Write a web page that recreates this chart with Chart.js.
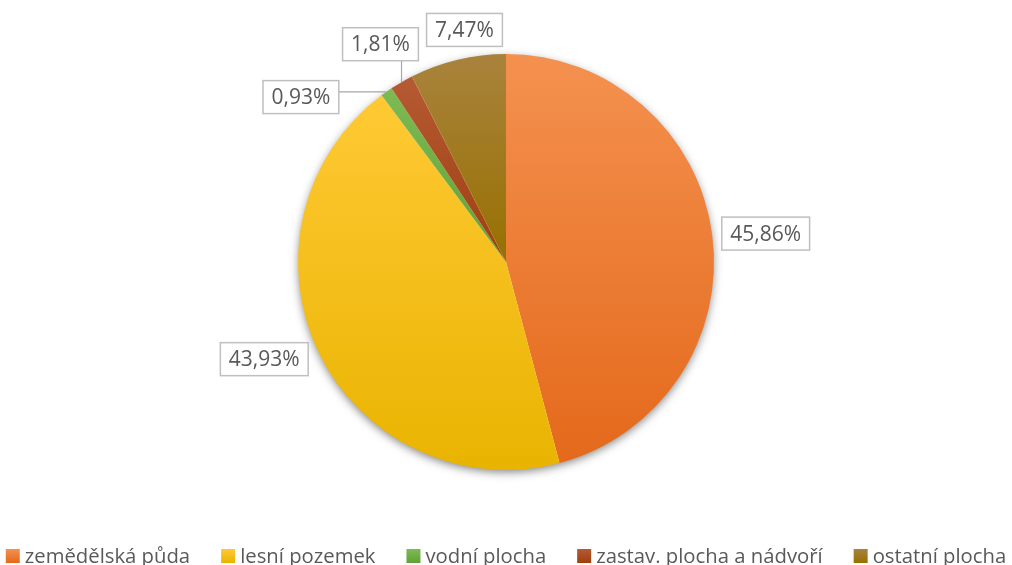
<!DOCTYPE html>
<html>
<head>
<meta charset="utf-8">
<script src="https://cdn.jsdelivr.net/npm/chart.js@4/dist/chart.umd.min.js"></script>
<style>
  html, body { margin: 0; padding: 0; background: #fff; }
  #wrap { width: 1012px; height: 565px; }
</style>
</head>
<body>
<div id="wrap"><canvas id="landChart" width="1012" height="565"></canvas></div>
<script>
// Struktura půdního fondu (podíly v %)
const categories = ['zemědělská půda', 'lesní pozemek', 'vodní plocha', 'zastav. plocha a nádvoří', 'ostatní plocha'];
const shares = [45.86, 43.93, 0.93, 1.81, 7.47];

// barvy výsečí: světlejší nahoře, tmavší dole
const colorsTop = ['#F4914F', '#FFC935', '#7DBA54', '#B65A34', '#A9833D'];
const colorsBottom = ['#E4691B', '#E9B400', '#62A136', '#9E3F0E', '#977000'];

// posun popisků u přeplněných výsečí [dx, dy]
const labelNudge = [[0, 2], [-6, -5], [-58, 27], [3, -15], [18, -4]];

function formatPct(v) {
  return v.toFixed(2).replace('.', ',') + '%';
}

function vGradient(ctx, y0, y1, i) {
  const grad = ctx.createLinearGradient(0, y0, 0, y1);
  grad.addColorStop(0, colorsTop[i]);
  grad.addColorStop(1, colorsBottom[i]);
  return grad;
}

// stín pod koláčem + přechody ve výsečích
const pieStyle = {
  id: 'pieStyle',
  beforeDatasetsDraw(chart) {
    const ctx = chart.ctx;
    const arcs = chart.getDatasetMeta(0).data;
    if (!arcs.length) return;
    const a0 = arcs[0];
    ctx.save();
    ctx.shadowColor = 'rgba(0,0,0,0.5)';
    ctx.shadowBlur = 10;
    ctx.shadowOffsetY = 3;
    ctx.fillStyle = '#fff';
    ctx.beginPath();
    ctx.arc(a0.x, a0.y, a0.outerRadius - 1, 0, Math.PI * 2);
    ctx.fill();
    ctx.restore();

    arcs.forEach((arc, i) => {
      let minY = arc.y, maxY = arc.y;
      for (let k = 0; k <= 40; k++) {
        const t = arc.startAngle + (arc.endAngle - arc.startAngle) * k / 40;
        const y = arc.y + Math.sin(t) * arc.outerRadius;
        minY = Math.min(minY, y);
        maxY = Math.max(maxY, y);
      }
      arc.options.backgroundColor = vGradient(ctx, minY, maxY, i);
    });
  }
};

// popisky hodnot v rámečcích s vodicími čarami
const boxLabels = {
  id: 'boxLabels',
  afterDatasetsDraw(chart) {
    const ctx = chart.ctx;
    const arcs = chart.getDatasetMeta(0).data;
    ctx.save();
    ctx.font = '21px "Open Sans"';
    ctx.textAlign = 'center';
    ctx.textBaseline = 'middle';
    arcs.forEach((arc, i) => {
      const mid = (arc.startAngle + arc.endAngle) / 2;
      const dx = Math.cos(mid), dy = Math.sin(mid);
      const px = arc.x + dx * arc.outerRadius;
      const py = arc.y + dy * arc.outerRadius;
      const text = formatPct(shares[i]);
      const w = ctx.measureText(text).width + 17;
      const h = 33;
      const gap = 10;
      const cx = px + dx * gap + dx * w / 2 + labelNudge[i][0];
      const cy = py + dy * gap + dy * h / 2 + labelNudge[i][1];
      const left = cx - w / 2, top = cy - h / 2;

      // vodicí čára jen u vzdálenějších popisků
      const ex = Math.min(Math.max(px, left), left + w);
      const ey = Math.min(Math.max(py, top), top + h);
      if (Math.hypot(ex - px, ey - py) > 14) {
        ctx.strokeStyle = '#A6A6A6';
        ctx.lineWidth = 1.2;
        ctx.beginPath();
        ctx.moveTo(px, py);
        ctx.lineTo(ex, ey);
        ctx.stroke();
      }

      ctx.fillStyle = '#fff';
      ctx.fillRect(left, top, w, h);
      ctx.strokeStyle = '#BFBFBF';
      ctx.lineWidth = 1.5;
      ctx.strokeRect(left, top, w, h);
      ctx.fillStyle = '#595959';
      ctx.fillText(text, cx, cy + 1);
    });
    ctx.restore();
  }
};

// legenda v jednom řádku dole
const bottomLegend = {
  id: 'bottomLegend',
  afterDraw(chart) {
    const ctx = chart.ctx;
    const box = 14, textGap = 5, itemGap = 31;
    const baseline = 563;
    ctx.save();
    ctx.font = '20.3px "Open Sans"';
    ctx.textAlign = 'left';
    ctx.textBaseline = 'alphabetic';
    const widths = categories.map(t => box + textGap + ctx.measureText(t).width);
    const total = widths.reduce((a, b) => a + b, 0) + itemGap * (widths.length - 1);
    let x = (chart.width - total) / 2;
    categories.forEach((t, i) => {
      const y0 = baseline - box;
      ctx.fillStyle = vGradient(ctx, y0, y0 + box, i);
      ctx.fillRect(x, y0, box, box);
      ctx.fillStyle = '#595959';
      ctx.fillText(t, x + box + textGap, baseline);
      x += widths[i] + itemGap;
    });
    ctx.restore();
  }
};

new Chart(document.getElementById('landChart'), {
  type: 'pie',
  data: {
    labels: categories,
    datasets: [{
      data: shares,
      backgroundColor: colorsTop,
      borderWidth: 0,
      radius: 208
    }]
  },
  options: {
    responsive: false,
    animation: false,
    layout: { padding: { top: 0, bottom: 41 } },
    plugins: {
      tooltip: { enabled: false },
      legend: { display: false }
    }
  },
  plugins: [pieStyle, boxLabels, bottomLegend]
});
</script>
</body>
</html>
